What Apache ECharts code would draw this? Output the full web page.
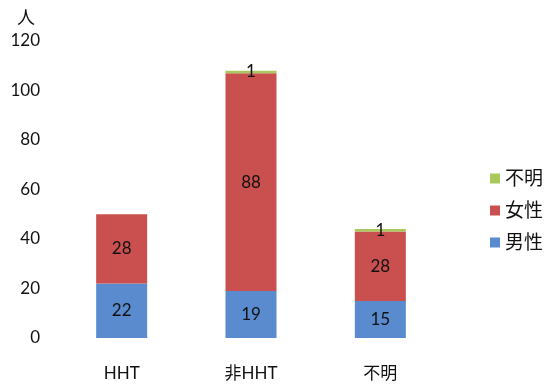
<!DOCTYPE html>
<html><head><meta charset="utf-8">
<script src="https://cdn.jsdelivr.net/npm/echarts@6/dist/echarts.min.js"></script>
<style>html,body{margin:0;padding:0;background:#fff}#c{width:545px;height:387px}</style>
</head><body><div id="c"></div>
<script>
const categories = ['HHT', '非HHT', '不明'];
const male = [22, 19, 15];
const female = [28, 88, 28];
const unknown = [0, 1, 1];
const yTicks = [0, 20, 40, 60, 80, 100, 120];
const FONT = 'Lato, "Noto Sans CJK JP", sans-serif';
const chart = echarts.init(document.getElementById('c'));
const lbl = {show: true, position: 'inside', color: '#111', fontSize: 17, fontFamily: FONT,
  formatter: p => p.value === 0 ? '' : String(p.value)};
chart.setOption({
  animation: false,
  grid: {left: 57, right: 100, top: 41, bottom: 49},
  legend: {
    orient: 'vertical', left: 485, top: 164, itemWidth: 10, itemHeight: 10, itemGap: 13,
    data: ['不明', '女性', '男性'],
    textStyle: {fontSize: 19, fontFamily: FONT, color: '#111'},
    icon: 'rect'
  },
  xAxis: {
    type: 'category', data: categories,
    axisLine: {show: false}, axisTick: {show: false},
    axisLabel: {fontSize: 17, fontFamily: FONT, color: '#111', margin: 27}
  },
  yAxis: {
    type: 'value', min: 0, max: 120, interval: 20,
    name: '人', nameLocation: 'end', nameGap: 14,
    nameTextStyle: {fontSize: 18, fontFamily: FONT, color: '#111', align: 'right', padding: [0, 22, 0, 0]},
    axisLine: {show: false}, axisTick: {show: false},
    splitLine: {show: false},
    axisLabel: {fontSize: 17, fontFamily: FONT, color: '#111', margin: 17,
      formatter: v => yTicks.includes(v) ? String(v) : ''}
  },
  series: [
    {name: '男性', type: 'bar', stack: 's', data: male, barWidth: 51, itemStyle: {color: '#5a8bcf'}, label: lbl},
    {name: '女性', type: 'bar', stack: 's', data: female, barWidth: 51, itemStyle: {color: '#c9504f'}, label: lbl},
    {name: '不明', type: 'bar', stack: 's', data: unknown, barWidth: 51, itemStyle: {color: '#a9c95c'}, label: lbl}
  ]
});
</script></body></html>
